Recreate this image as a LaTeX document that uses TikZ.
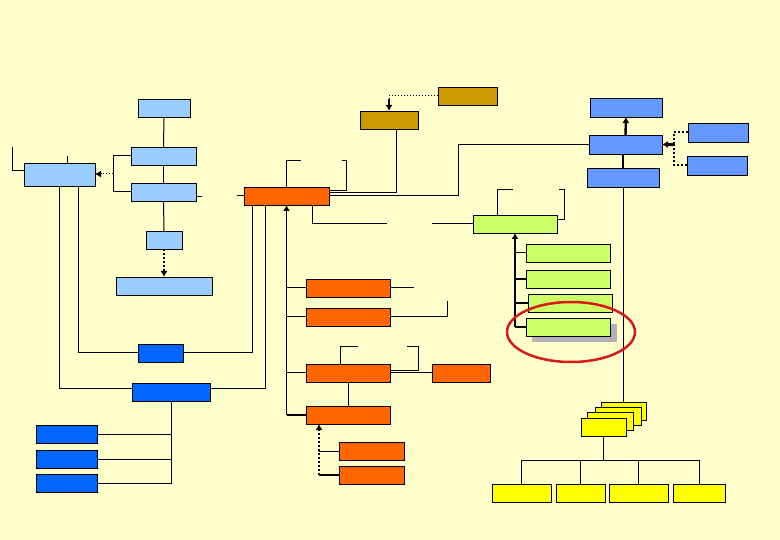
\documentclass[tikz,border=0pt]{standalone}
\usetikzlibrary{arrows.meta}
\definecolor{bgc}{HTML}{FFFFCC}
\definecolor{lblue}{HTML}{99CCFF}
\definecolor{orng}{HTML}{FF6600}
\definecolor{brwn}{HTML}{CC9900}
\definecolor{dblue}{HTML}{6699FF}
\definecolor{bblue}{HTML}{0066FF}
\definecolor{grn}{HTML}{CCFF66}
\definecolor{ylw}{HTML}{FFFF00}
\definecolor{shd}{HTML}{B2B2B2}
\definecolor{ered}{RGB}{215,25,25}
\newcommand\bx[6]{\node[box,fill=#2,minimum width={(#5-#3)*1pt},minimum height={(#6-#4)*1pt}] (#1) at ({(#3+#5)/2},{(#4+#6)/2}) {};}
\tikzset{
  box/.style={draw=black,line width=0.9pt,inner sep=0pt,outer sep=0pt},
  ln/.style={draw=black,line width=1pt},
  thk/.style={draw=black,line width=2.4pt},
  dotthk/.style={draw=black,line width=2pt,dotted},
  dotthin/.style={draw=black,line width=1pt,dotted},
  tip/.style={-{Latex[length=6pt,width=7pt]}},
}
\begin{document}
\begin{tikzpicture}[x=1pt,y=-1pt]
\fill[bgc] (0,0) rectangle (780,540);
\useasboundingbox (0,0) rectangle (780,540);
% shadow
\fill[shd] (532,324) rectangle (617,342);
% light blue
\bx{lbTop}{lblue}{138}{99}{190}{117}
\bx{lbA}{lblue}{131}{147}{196}{165}
\bx{lbB}{lblue}{131}{183}{196}{201}
\bx{lbC}{lblue}{146}{231}{182}{249}
\bx{lbD}{lblue}{116}{277}{212}{295}
\bx{lbL}{lblue}{24}{163}{95}{186}
% orange
\bx{oM}{orng}{244}{187}{329}{205}
\bx{o1}{orng}{306}{279}{390}{297}
\bx{o2}{orng}{306}{308}{390}{326}
\bx{o3}{orng}{306}{364}{390}{382}
\bx{oR}{orng}{432}{364}{490}{382}
\bx{o4}{orng}{306}{406}{390}{424}
\bx{o5}{orng}{339}{442}{404}{460}
\bx{o6}{orng}{339}{466}{404}{484}
% brown
\bx{brT}{brwn}{438}{87}{497}{105}
\bx{br}{brwn}{360}{111}{418}{129}
% dark blue
\bx{dbT}{dblue}{590}{98}{662}{117}
\bx{dbM}{dblue}{589}{135}{662}{154}
\bx{dbL}{dblue}{587}{168}{659}{187}
\bx{dbR1}{dblue}{688}{123}{748}{142}
\bx{dbR2}{dblue}{687}{156}{747}{175}
% green
\bx{gM}{grn}{473}{215}{557}{233}
\bx{g1}{grn}{526}{244}{610}{262}
\bx{g2}{grn}{526}{270}{610}{288}
\bx{g3}{grn}{528}{294}{612}{312}
\bx{g4}{grn}{526}{318}{610}{336}
% bright blue
\bx{bA}{bblue}{138}{344}{183}{362}
\bx{bB}{bblue}{132}{383}{210}{401}
\bx{b1}{bblue}{36}{425}{97}{443}
\bx{b2}{bblue}{36}{450}{97}{468}
\bx{b3}{bblue}{36}{474}{97}{492}
% yellow
\bx{y4}{ylw}{601}{402}{646}{420}
\bx{y3}{ylw}{595}{407}{641}{425}
\bx{y2}{ylw}{587}{412}{633}{430}
\bx{y1}{ylw}{581}{418}{626}{436}
\bx{yb1}{ylw}{492}{484}{551}{502}
\bx{yb2}{ylw}{556}{484}{605}{502}
\bx{yb3}{ylw}{609}{484}{668}{502}
\bx{yb4}{ylw}{673}{484}{725}{502}

% ---- light blue connectors
\draw[ln] (lbTop.south) -- (lbA.north);
\draw[ln] (lbA.south) -- (lbB.north);
\draw[ln] (lbB.south) -- (lbC.north);
\draw[dotthk,tip] (lbC.south) -- (lbD.north);
\draw[ln] (lbA.west) -- ++(-18,0) |- (lbB.west);
\coordinate (lbj) at ([xshift=-18pt,yshift=-18pt]lbA.west);
\draw[dotthin,tip] (lbj) -- (lbj -| lbL.east);
\draw[ln] ([yshift=3.5pt]lbL.west) -- ++(-12,0) -- ++(0,-24);
\draw[ln] ([xshift=7.5pt]lbL.north) -- ++(0,-7);
\draw[ln] ([yshift=-5pt]lbB.east) -- ++(6,0);
\draw[ln] (oM.west) -- ++(-7,0);
% ---- left lines to bright blue
\draw[ln] ([yshift=3pt]bB.west) -| (lbL.south);
\draw[ln] (bA.west) -| ([xshift=18.5pt]lbL.south);
\draw[ln] (bA.east) -| ([xshift=-34pt]oM.south);
\draw[ln] ([yshift=3pt]bB.east) -| ([xshift=-21.5pt]oM.south);
\draw[ln] (bB.south) |- (b3.east);
\draw[ln] (b1.east) -- (b1.east -| bB.south);
\draw[ln] (b2.east) -- (b2.east -| bB.south);
% ---- orange connectors
\draw[ln,line width=1.3pt,tip] (o4.west -| oM.south) -- (oM.south);
\draw[thk] (o4.west) -- (o4.west -| oM.south);
\draw[ln] (o1.west) -- (o1.west -| oM.south);
\draw[ln] (o2.west) -- (o2.west -| oM.south);
\draw[ln] (o3.west) -- (o3.west -| oM.south);
\draw[ln] (o1.east) -- ++(24,0);
\draw[ln] (o2.east) -- ++(57,0) -- ++(0,-16);
\draw[ln] ([xshift=-8pt]o3.north) -- ++(0,-17) -- ++(18,0);
\draw[ln] ([yshift=2pt]o3.east) -- ++(28,0) -- ++(0,-24) -- ++(-11,0);
\draw[ln] (o3.east) -- (oR.west);
\draw[ln] (o3.south) -- (o4.north);
\coordinate (o4d) at ([xshift=-29pt]o4.south);
\draw[ln] (o5.west) -- (o5.west -| o4d);
\draw[thk] (o6.west) -- (o6.west -| o4d);
\draw[dotthk,tip] (o6.west -| o4d) -- (o4d);
\draw[ln] (oM.north) -- ++(0,-26) -- ++(14,0);
\draw[ln] ([yshift=5pt]oM.east) -- ++(17,0) -- ++(0,-30) -- ++(-4,0);
\draw[ln] ([yshift=3pt]oM.east) -| ([xshift=7pt]br.south);
\draw[ln] (oM.east) -- ++(129,0) |- (dbM.west);
\draw[ln] ([xshift=25.5pt]oM.south) -- ++(0,19) -- ++(75,0);
\draw[ln] (gM.west) -- ++(-41,0);
% ---- brown
\draw[dotthin] (brT.west) -| ([yshift=6pt]br.north);
\draw[thk,tip] ([yshift=12pt]br.north) -- (br.north);
% ---- green
\draw[ln] ([xshift=-18pt]gM.north) -- ++(0,-25) -- ++(16,0);
\draw[ln] ([yshift=4pt]gM.east) -- ++(7,0) -- ++(0,-30) -- ++(-5,0);
\draw[thk,tip] (g4.west -| gM.south) -- (gM.south);
\draw[ln] (g1.west) -- (g1.west -| gM.south);
\draw[thk] (g2.west) -- (g2.west -| gM.south);
\draw[thk] (g3.west) -- (g3.west -| gM.south);
\draw[thk] (g4.west) -- (g4.west -| gM.south);
% ---- dark blue
\draw[thk,tip] (dbM.north) -- (dbT.south);
\draw[thk] (dbL.north |- dbM.south) -- (dbL.north);
\coordinate (dbj) at ([xshift=12pt]dbM.east);
\draw[dotthk] (dbR1.west) -| (dbj);
\draw[dotthk] (dbR2.west) -| (dbj);
\draw[thk,tip] (dbj) -- (dbM.east);
\draw[ln] (dbL.south) -- (dbL.south |- y4.north);
% ---- yellow
\coordinate (yj) at ([yshift=-24pt]y1.south);
\draw[ln] (y1.south) -- (yj);
\draw[ln] (yb1.north) |- (yj -| yb4.north) -- (yb4.north);
\draw[ln] (yb2.north) -- (yb2.north |- yj);
\draw[ln] (yb3.north) -- (yb3.north |- yj);
% ---- red ellipse
\draw[ered,line width=2.5pt] (571,332) ellipse [x radius=64pt, y radius=30pt];
\end{tikzpicture}
\end{document}
